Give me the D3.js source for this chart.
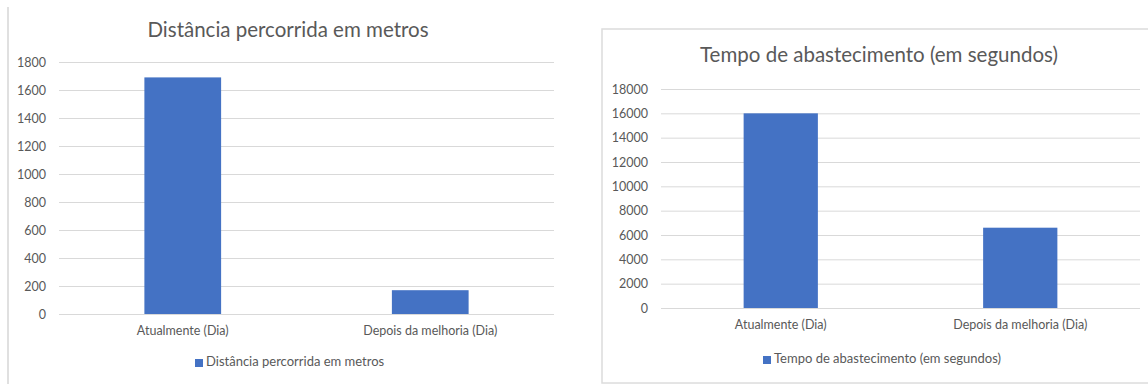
<!DOCTYPE html>
<html>
<head>
<meta charset="utf-8">
<script src="https://cdn.jsdelivr.net/npm/d3@7"></script>
<style>
  body { margin: 0; background: #fff; }
  text { font-family: Lato, "Liberation Sans", sans-serif; fill: #595959; }
</style>
</head>
<body>
<script>
const width = 1148;
const height = 385;

const categories = ["Atualmente (Dia)", "Depois da melhoria (Dia)"];
const distancia = [1690, 170];
const tempo = [16000, 6600];
const distanciaTicks = [0, 200, 400, 600, 800, 1000, 1200, 1400, 1600, 1800];
const tempoTicks = [0, 2000, 4000, 6000, 8000, 10000, 12000, 14000, 16000, 18000];

const svg = d3.select("body")
    .append("svg")
    .attr("width", width)
    .attr("height", height);

// panel frames
svg.append("line")
    .attr("x1", 8).attr("x2", 8).attr("y1", 7).attr("y2", 384)
    .attr("stroke", "#e0e0e0").attr("stroke-width", 2);

svg.append("rect")
    .attr("x", 602).attr("y", 29).attr("width", 560).attr("height", 354)
    .attr("fill", "none").attr("stroke", "#dcdcdc").attr("stroke-width", 1.5);

function drawChart(cfg) {
    const g = svg.append("g");

    let xScale = d3.scaleBand()
        .domain(categories)
        .range([cfg.left, cfg.right]);
    let yScale = d3.scaleLinear()
        .domain([0, d3.max(cfg.ticks)])
        .range([cfg.bottom, cfg.top]);

    // gridlines + tick labels
    let yAxis = d3.axisLeft(yScale)
        .tickValues(cfg.ticks)
        .tickSize(-(cfg.right - cfg.left))
        .tickPadding(13)
        .tickFormat(d3.format("d"));

    g.append("g")
        .attr("transform", `translate(${cfg.left}, 0)`)
        .call(yAxis)
        .call(a => a.select(".domain").remove())
        .call(a => a.selectAll(".tick line").attr("stroke", "#d9d9d9").attr("stroke-width", 1))
        .call(a => a.selectAll(".tick text")
            .attr("font-size", cfg.tickFont)
            .attr("font-family", "Lato, sans-serif")
            .attr("fill", "#666"));

    // bars
    let barW = xScale.bandwidth() * 0.31;
    g.selectAll("rect.bar")
        .data(cfg.values)
        .enter()
        .append("rect")
        .attr("class", "bar")
        .attr("x", (d, i) => xScale(categories[i]) + xScale.bandwidth() / 2 - barW / 2)
        .attr("y", d => yScale(d))
        .attr("width", barW)
        .attr("height", d => cfg.bottom - yScale(d))
        .attr("fill", "#4472C4");

    // category labels
    let xAxis = d3.axisBottom(xScale).tickSize(0).tickPadding(cfg.catPad);
    g.append("g")
        .attr("transform", `translate(0, ${cfg.bottom})`)
        .call(xAxis)
        .call(a => a.select(".domain").remove())
        .call(a => a.selectAll(".tick text")
            .attr("font-size", cfg.catFont)
            .attr("font-family", "Lato, sans-serif")
            .attr("fill", "#666"));

    // title
    g.append("text")
        .attr("x", cfg.titleX)
        .attr("y", cfg.titleY)
        .attr("text-anchor", "middle")
        .attr("dominant-baseline", "middle")
        .attr("font-size", cfg.titleFont)
        .text(cfg.title);

    // legend
    let leg = g.append("g").attr("transform", `translate(${cfg.legX}, ${cfg.legY})`);
    leg.append("rect")
        .attr("x", 0).attr("y", -4)
        .attr("width", 8).attr("height", 8)
        .attr("fill", "#4472C4");
    leg.append("text")
        .attr("x", 11).attr("y", 0)
        .attr("dominant-baseline", "middle")
        .attr("font-size", cfg.legFont)
        .attr("fill", "#666")
        .text(cfg.title);
}

drawChart({
    title: "Distância percorrida em metros",
    values: distancia,
    ticks: distanciaTicks,
    left: 59, right: 554, top: 62, bottom: 314,
    titleX: 288, titleY: 32, titleFont: 20.5,
    tickFont: 12.5, catFont: 12.5, legFont: 13, catPad: 12,
    legX: 195, legY: 363
});

drawChart({
    title: "Tempo de abastecimento (em segundos)",
    values: tempo,
    ticks: tempoTicks,
    left: 661, right: 1140, top: 89, bottom: 308,
    titleX: 879, titleY: 57, titleFont: 20.5,
    tickFont: 12.5, catFont: 12.5, legFont: 13, catPad: 12,
    legX: 763, legY: 360
});
</script>
</body>
</html>
